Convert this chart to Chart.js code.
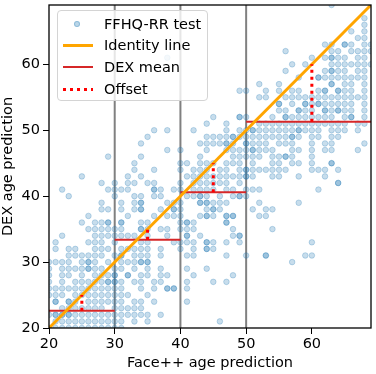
<!DOCTYPE html>
<html lang="en">
<head>
<meta charset="UTF-8">
<title>DEX vs Face++ age prediction</title>
<script src="https://cdn.jsdelivr.net/npm/chart.js"></script>
<style>
  body { margin: 0; background: #fff; }
  .wrap { position: relative; width: 376px; height: 374px; }
  .legend {
    position: absolute; left: 57px; top: 10px; width: 151px; height: 91px;
    box-sizing: border-box; border: 1px solid #d4d4d4; border-radius: 4px;
    background: rgba(255,255,255,0.8); font: 14.5px "DejaVu Sans"; color: #000;
  }
  .row { position: absolute; left: 0; height: 22px; line-height: 22px; width: 100%; }
  .row span { position: absolute; left: 46px; white-space: nowrap; }
  .sample { position: absolute; left: 5px; width: 30px; }
  .dot { position: absolute; left: 16px; top: 8px; width: 6px; height: 6px; border-radius: 50%;
    background: rgba(31,119,180,0.3); border: 1px solid rgba(31,119,180,0.3); box-sizing: border-box; }
</style>
</head>
<body>
<div class="wrap">
  <canvas id="chart" width="376" height="374"></canvas>
  <div class="legend">
    <div class="row" style="top:2px"><div class="dot"></div><span>FFHQ-RR test</span></div>
    <div class="row" style="top:23px"><div class="sample" style="top:10px;height:3px;background:#ffa500"></div><span>Identity line</span></div>
    <div class="row" style="top:45px"><div class="sample" style="top:10px;height:2px;background:#d62728"></div><span>DEX mean</span></div>
    <div class="row" style="top:67px"><div class="sample" style="top:10px;height:3px;background:repeating-linear-gradient(to right,#ff0000 0 3px,transparent 3px 7px)"></div><span>Offset</span></div>
  </div>
</div>
<script>
// axis setup
const axisMin = 20;
const axisMax = 69;
const xTicks = [20, 30, 40, 50, 60];
const yTicks = [20, 30, 40, 50, 60];

// age bins (edges) and DEX mean per bin
const binEdges = [20, 30, 40, 50, 69];
const dexMean = [22.6, 33.4, 40.6, 51.3];
// x positions where the offset is shown
const offsetX = [25, 35, 45, 60];

// FFHQ-RR test points, read row by row: DEX age (y) and the Face++ ages (x) on that row
const rowY = [69, 67, 66, 65, 64, 63, 62, 61, 60, 59, 58, 57, 56, 55, 54, 53, 52, 51, 50, 49, 48, 47, 46, 45,
  44, 43, 42, 41, 40, 39, 38, 37, 36, 35, 34, 33, 32, 31, 30, 29, 28, 27, 26, 25, 24, 23, 22, 21, 20];
const rowX = [
  [63],
  [68],
  [68],
  [66, 68],
  [67, 68],
  [62, 63, 65, 65, 66, 68, 69],
  [56, 63, 64, 66, 67, 68, 69],
  [38, 60, 62, 63, 63, 64, 65, 67, 68],
  [57, 59, 63, 64, 65, 66, 67, 68, 69],
  [56, 62, 63, 63, 64, 65, 67, 68],
  [58, 61, 61, 62, 63, 64, 65, 66, 67, 68],
  [52, 55, 63, 63, 65, 66, 68],
  [49, 50, 53, 55, 57, 58, 61, 62, 62, 64, 64, 65, 66, 68],
  [52, 53, 56, 57, 58, 59, 60, 61, 62, 63, 64, 65, 66, 67, 68],
  [55, 55, 57, 59, 59, 60, 61, 61, 62, 63, 64, 65, 66, 68],
  [55, 56, 58, 58, 59, 60, 62, 62, 63, 64, 64, 65, 66, 68],
  [45, 49, 49, 50, 54, 56, 56, 57, 58, 59, 60, 61, 62, 63, 65, 66, 66, 68],
  [44, 47, 52, 53, 54, 55, 56, 57, 58, 59, 60, 61, 62, 63, 64, 65, 67, 68],
  [36, 38, 42, 47, 49, 50, 51, 51, 52, 53, 54, 55, 56, 57, 58, 58, 59, 60, 61, 63, 64, 65, 67],
  [35, 44, 45, 46, 47, 48, 48, 49, 50, 51, 52, 53, 54, 55, 56, 57, 57, 58, 60, 61, 63, 64],
  [34, 43, 44, 45, 46, 47, 47, 48, 50, 50, 51, 52, 53, 55, 56, 57, 60, 62, 63, 68],
  [38, 40, 44, 47, 48, 49, 50, 51, 51, 52, 53, 54, 57, 58, 60, 62, 63, 67],
  [29, 34, 43, 48, 49, 50, 51, 52, 54, 55, 56, 56, 57, 60],
  [33, 40, 41, 43, 44, 45, 47, 48, 49, 51, 54, 55, 57, 58, 60, 63, 63],
  [33, 36, 40, 42, 43, 44, 46, 47, 49, 50, 50, 51, 52, 53, 54, 55, 56, 60, 61, 62, 64],
  [25, 32, 34, 41, 42, 43, 44, 45, 46, 47, 48, 49, 50, 50, 51, 54, 55, 58, 62],
  [28, 30, 32, 33, 35, 36, 40, 42, 43, 44, 45, 46, 47, 49, 64, 64],
  [22, 29, 30, 31, 32, 36, 36, 37, 39, 40, 42, 43, 44, 45, 47, 48, 50, 51, 52, 61],
  [23, 30, 33, 34, 36, 37, 41, 42, 43, 43, 44, 46, 48, 49, 49, 50],
  [28, 31, 33, 34, 34, 38, 39, 40, 43, 43, 44, 44, 45, 46, 47, 52, 58],
  [28, 29, 31, 33, 34, 34, 37, 39, 39, 40, 44, 45, 45, 46, 51, 53, 54],
  [26, 32, 36, 38, 39, 40, 43, 44, 44, 45, 47, 47, 48, 48, 52, 53],
  [25, 27, 28, 29, 29, 31, 31, 34, 35, 40, 41, 41, 42, 47, 47],
  [26, 27, 28, 29, 30, 31, 34, 34, 35, 37, 38, 40, 41, 42, 48, 54],
  [22, 27, 28, 29, 30, 31, 32, 33, 35, 38, 41, 41, 43, 48, 49, 49],
  [21, 26, 27, 28, 30, 34, 35, 39, 40, 41, 42, 44, 44, 45, 47, 49, 60],
  [21, 23, 24, 27, 28, 29, 31, 32, 33, 34, 35, 37, 40, 42, 44, 44, 45],
  [23, 24, 25, 26, 27, 28, 30, 31, 31, 33, 34, 35, 37, 41, 42, 47, 50, 53, 53, 59, 60],
  [20, 21, 22, 23, 25, 26, 26, 27, 29, 31, 32, 33, 34, 34, 35, 35, 57],
  [20, 22, 23, 24, 25, 26, 26, 27, 28, 30, 31, 33, 35, 37, 41, 44],
  [20, 22, 23, 25, 27, 28, 29, 30, 30, 32, 32, 34, 35, 37, 38, 42, 48],
  [20, 22, 24, 25, 26, 27, 28, 29, 29, 30, 30, 31, 33, 34, 36, 37, 41, 45, 47],
  [20, 21, 22, 23, 24, 25, 26, 27, 28, 29, 30, 31, 34, 36, 38, 38, 39, 39, 41],
  [20, 21, 22, 24, 25, 26, 27, 28, 29, 30, 31, 32, 35],
  [21, 21, 23, 23, 24, 26, 27, 28, 29, 30, 31, 33, 34, 36, 41],
  [22, 23, 24, 25, 26, 27, 28, 30, 31, 32, 33, 34],
  [20, 21, 21, 22, 22, 23, 23, 24, 25, 26, 27, 28, 29, 30, 31, 32, 33, 34, 35, 37],
  [21, 22, 23, 24, 25, 26, 27, 28, 29, 30, 31, 33, 35, 46],
  [20, 21, 22, 23, 24, 25, 26, 27, 28, 29, 30, 31]
];

const points = [];
rowY.forEach((y, i) => rowX[i].forEach(x => points.push({ x: x, y: y })));

Chart.defaults.font.family = '"DejaVu Sans", sans-serif';
Chart.defaults.font.size = 14.5;
Chart.defaults.color = '#000';

const datasets = [];

// offset (dotted) - on top
offsetX.forEach((x, i) => datasets.push({
  type: 'line', data: [{ x: x, y: dexMean[binEdges.findIndex((e, j) => x >= e && x < binEdges[j + 1])] }, { x: x, y: x }],
  borderColor: '#ff0000', borderWidth: 3, borderDash: [3, 4], pointRadius: 0, order: 0
}));

// identity line
datasets.push({
  type: 'line', data: [{ x: axisMin, y: axisMin }, { x: axisMax, y: axisMax }],
  borderColor: '#ffa500', borderWidth: 3, pointRadius: 0, order: 1
});

// DEX mean per bin
dexMean.forEach((m, i) => datasets.push({
  type: 'line', data: [{ x: binEdges[i], y: m }, { x: binEdges[i + 1], y: m }],
  borderColor: '#d62728', borderWidth: 2, pointRadius: 0, order: 2
}));

// scatter
datasets.push({
  type: 'scatter', data: points,
  backgroundColor: 'rgba(31,119,180,0.25)', borderColor: 'rgba(31,119,180,0.25)',
  borderWidth: 1, pointRadius: 2.8, order: 3
});

// bin boundaries
binEdges.slice(1, -1).forEach(x => datasets.push({
  type: 'line', data: [{ x: x, y: axisMin }, { x: x, y: axisMax }],
  borderColor: '#808080', borderWidth: 2, pointRadius: 0, order: 4
}));

const frame = {
  id: 'frame',
  afterDraw(chart) {
    const { ctx, chartArea: a } = chart;
    ctx.save();
    ctx.strokeStyle = '#000';
    ctx.lineWidth = 1.3;
    ctx.strokeRect(a.left, a.top, a.right - a.left, a.bottom - a.top);
    ctx.restore();
  }
};

function noPad(s) {
  s.paddingTop = 0; s.paddingBottom = 0; s.paddingLeft = 0; s.paddingRight = 0;
}

new Chart(document.getElementById('chart'), {
  type: 'scatter',
  data: { datasets: datasets },
  options: {
    responsive: false,
    devicePixelRatio: 1,
    animation: false,
    layout: { padding: { top: 3, right: 2, left: 0, bottom: 0 } },
    plugins: { legend: { display: false }, tooltip: { enabled: false } },
    scales: {
      x: {
        type: 'linear', min: axisMin, max: axisMax,
        afterBuildTicks: s => { s.ticks = xTicks.map(v => ({ value: v })); },
        afterFit: s => { s.height = 46; noPad(s); },
        grid: { drawOnChartArea: false, tickLength: 6, tickColor: '#000', tickWidth: 1 },
        border: { display: false },
        ticks: { padding: 2, maxRotation: 0 },
        title: { display: true, text: 'Face++ age prediction', padding: { top: 0, bottom: 2 } }
      },
      y: {
        type: 'linear', min: axisMin, max: axisMax,
        afterBuildTicks: s => { s.ticks = yTicks.map(v => ({ value: v })); },
        afterFit: s => { s.width = 49; noPad(s); },
        grid: { drawOnChartArea: false, tickLength: 6, tickColor: '#000', tickWidth: 1 },
        border: { display: false },
        ticks: { padding: 3 },
        title: { display: true, text: 'DEX age prediction', padding: { top: 0, bottom: 0 } }
      }
    }
  },
  plugins: [frame]
});
</script>
</body>
</html>
